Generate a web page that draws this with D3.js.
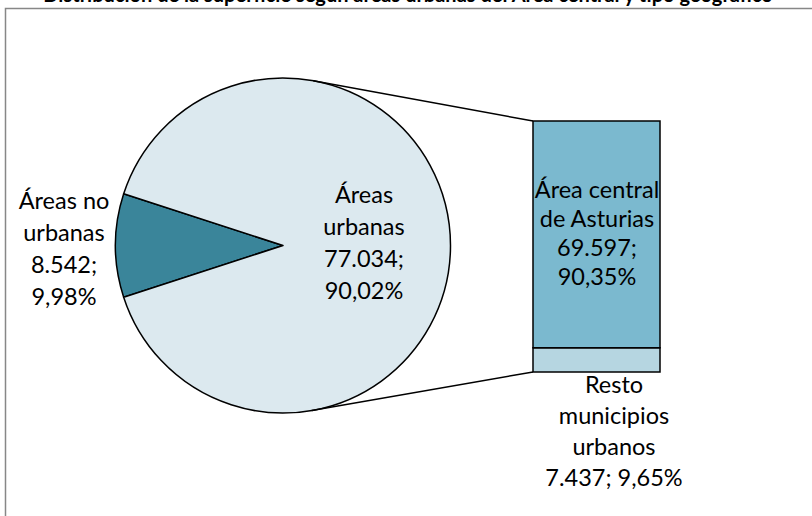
<!DOCTYPE html>
<html>
<head>
<meta charset="utf-8">
<script src="https://cdn.jsdelivr.net/npm/d3@7/dist/d3.min.js"></script>
<style>
  html, body { margin: 0; padding: 0; background: #fff; }
  svg { display: block; }
  text { font-family: Lato, "Open Sans", sans-serif; fill: #000; }
</style>
</head>
<body>
<svg id="chart" width="812" height="516"></svg>
<script>
// ---- data ----
const titleText = "Distribución de la superficie según áreas urbanas del Área central y tipo geográfico";
const mainLabels = [["Áreas no", "urbanas"], ["Áreas", "urbanas"]];
const mainValues = [8542, 77034];
const barLabels = [["Área central", "de Asturias"], ["Resto", "municipios", "urbanos"]];
const barValues = [69597, 7437];

// ---- formatting (Spanish locale) ----
const loc = d3.formatLocale({decimal: ",", thousands: ".", grouping: [3], currency: ["", "€"]});
const fmtNum = loc.format(",d");
const fmtPct = loc.format(".2%");

const svg = d3.select("#chart");

// frame
svg.append("rect").attr("x", 5.5).attr("y", 8.5).attr("width", 830).attr("height", 530)
  .attr("fill", "#fff").attr("stroke", "#878787").attr("stroke-width", 1.5);

// title (clipped at the top of the picture, as in the reference)
svg.append("text").attr("x", 408).attr("y", 1.5).attr("text-anchor", "middle")
  .style("font-weight", "bold").style("font-size", "20px").text(titleText);

// ---- pie ----
const cx = 283, cy = 245.5, r = 167.5;
const total = d3.sum(mainValues);
const a0 = 2 * Math.PI * mainValues[0] / total;
const pie = d3.pie().sort(null)
  .startAngle(-Math.PI / 2 - a0 / 2)
  .endAngle(3 * Math.PI / 2 - a0 / 2);
const arcs = pie(mainValues);
const arc = d3.arc().innerRadius(0).outerRadius(r);
const pieColors = ["#3A859A", "#DCE9EF"];

const gPie = svg.append("g").attr("transform", `translate(${cx},${cy})`);
gPie.selectAll("path").data(arcs).join("path")
  .attr("d", arc)
  .attr("fill", (d, i) => pieColors[i])
  .attr("stroke", "#000").attr("stroke-width", 1.5).attr("stroke-linejoin", "round");

// ---- bar ----
const barX = 533, barW = 127;
const barTop = 121, barBottom = 372;
const y = d3.scaleLinear().domain([0, d3.sum(barValues)]).range([barBottom, barTop]);
const stackOrder = [1, 0]; // Resto at bottom, Área central on top
let acc = 0;
const segs = stackOrder.map(i => { const s = {i, y0: acc, y1: acc + barValues[i]}; acc += barValues[i]; return s; });
const barColors = ["#7BB9CF", "#B6D6E1"];
svg.append("g").selectAll("rect").data(segs).join("rect")
  .attr("x", barX).attr("width", barW)
  .attr("y", d => y(d.y1)).attr("height", d => y(d.y0) - y(d.y1))
  .attr("fill", d => barColors[d.i])
  .attr("stroke", "#000").attr("stroke-width", 1.5);

// ---- connector lines (tangent to the pie) ----
function tangentPoint(px, py, sign) {
  const dx = px - cx, dy = py - cy;
  const d = Math.hypot(dx, dy);
  const base = Math.atan2(dy, dx);
  const off = Math.acos(r / d);
  const ang = base + sign * off;
  return [cx + r * Math.cos(ang), cy + r * Math.sin(ang)];
}
const topPt = tangentPoint(barX, y(d3.sum(barValues)), -1);
const botPt = tangentPoint(barX, y(0), 1);
svg.append("line").attr("x1", topPt[0]).attr("y1", topPt[1]).attr("x2", barX).attr("y2", y(d3.sum(barValues)))
  .attr("stroke", "#000").attr("stroke-width", 1.5);
svg.append("line").attr("x1", botPt[0]).attr("y1", botPt[1]).attr("x2", barX).attr("y2", y(0))
  .attr("stroke", "#000").attr("stroke-width", 1.5);

// ---- labels ----
function multiLabel(x, y0, lines, step) {
  const t = svg.append("text").attr("text-anchor", "middle").style("font-size", "23.5px");
  lines.forEach((s, k) => t.append("tspan").attr("x", x).attr("y", y0 + k * step).text(s));
}
multiLabel(64, 209, [...mainLabels[0], fmtNum(mainValues[0]) + ";", fmtPct(mainValues[0] / total)], 32);
multiLabel(364, 203, [...mainLabels[1], fmtNum(mainValues[1]) + ";", fmtPct(mainValues[1] / total)], 32);
const barTotal = d3.sum(barValues);
multiLabel(597, 198, [...barLabels[0], fmtNum(barValues[0]) + ";", fmtPct(barValues[0] / barTotal)], 29);
multiLabel(614, 393, [...barLabels[1], fmtNum(barValues[1]) + "; " + fmtPct(barValues[1] / barTotal)], 31);
</script>
</body>
</html>
